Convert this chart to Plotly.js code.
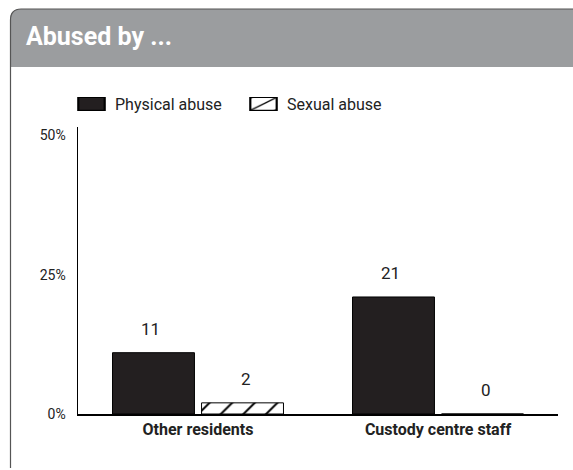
<!DOCTYPE html>
<html>
<head>
<meta charset="utf-8">
<script src="https://cdn.plot.ly/plotly-3.0.1.min.js"></script>
<style>
html,body{margin:0;padding:0;background:#fff;}
#chart{width:573px;height:470px;}
#chart .legendpoints path{transform:translate(23.5px,0px) scale(2.2,1.08);}
</style>
</head>
<body>
<div id="chart"></div>
<script>
const categories = ["Other residents", "Custody centre staff"];
const seriesNames = ["Physical abuse", "Sexual abuse"];
const physical = [11, 21];
const sexual = [2, 0];
const tickVals = [0, 25, 50];
const tickText = ["0%", "25%", "50%"];
const chartTitle = "Abused by ...";

const FONT = 'Roboto, "Liberation Sans", sans-serif';

// layout geometry (pixels)
const W = 573, H = 470;
const M = {l: 78, r: 15, t: 127, b: 56};
const pw = W - M.l - M.r, ph = H - M.t - M.b;
const px = x => (x - M.l) / pw;
const py = y => (H - M.b - y) / ph;

const traces = [
  {
    type: 'bar', name: seriesNames[0], x: categories, y: physical,
    marker: {color: '#231f20', line: {color: '#000', width: 1}},
    hoverinfo: 'skip'
  },
  {
    type: 'bar', name: seriesNames[1], x: categories, y: sexual,
    marker: {color: '#fff', line: {color: '#000', width: 1},
      pattern: {shape: '/', fgcolor: '#000', bgcolor: '#fff', size: 16, solidity: 0.12}},
    hoverinfo: 'skip'
  }
];

const annotations = [];
const slotOff = 48;
[physical, sexual].forEach((vals, si) => {
  vals.forEach((v, ci) => {
    annotations.push({
      x: categories[ci], y: v, xref: 'x', yref: 'y',
      text: String(v), showarrow: false, yanchor: 'bottom',
      xshift: si === 0 ? -slotOff : slotOff, yshift: 12,
      font: {family: FONT, size: 17, color: '#222'}
    });
  });
});
annotations.push({
  xref: 'paper', yref: 'paper', x: px(24), y: py(37), xanchor: 'left', yanchor: 'middle',
  text: '<b>' + chartTitle + '</b>', showarrow: false,
  font: {family: FONT, size: 25, color: '#fff'}
});

const shapes = [
  { // header
    type: 'path', xref: 'paper', yref: 'paper', layer: 'below',
    path: `M ${px(10)},${py(67)} L ${px(10)},${py(20)} Q ${px(10)},${py(9)} ${px(21)},${py(9)} L ${px(580)},${py(9)} L ${px(580)},${py(67)} Z`,
    fillcolor: '#9b9d9f', line: {width: 0}
  },
  { // border
    type: 'path', xref: 'paper', yref: 'paper', layer: 'above',
    path: `M ${px(10.5)},${py(468)} L ${px(10.5)},${py(20)} Q ${px(10.5)},${py(9)} ${px(21)},${py(9)} L ${px(580)},${py(9)}`,
    line: {color: '#555', width: 1.2}
  }
];

const layout = {
  width: W, height: H,
  margin: M,
  paper_bgcolor: '#fff', plot_bgcolor: '#fff',
  barmode: 'group', bargap: 0.258, bargroupgap: 0.08,
  showlegend: true,
  legend: {
    orientation: 'h', x: px(68), y: py(104), xanchor: 'left', yanchor: 'middle',
    font: {family: FONT, size: 16, color: '#222'},
    itemwidth: 37,
    entrywidth: 120, entrywidthmode: 'pixels', bgcolor: 'rgba(0,0,0,0)'
  },
  xaxis: {
    type: 'category', range: [-0.5, 1.5],
    showline: true, linecolor: '#000', linewidth: 2,
    ticks: '', showgrid: false, zeroline: false,
    tickfont: {family: FONT, size: 16, color: '#222', weight: 'bold'},
    fixedrange: true
  },
  yaxis: {
    range: [0, 51.5], tickvals: tickVals, ticktext: tickText,
    showline: true, linecolor: '#000', linewidth: 1.5,
    ticks: '', showgrid: false, zeroline: false,
    tickfont: {family: FONT, size: 14, color: '#222'},
    ticklabelstandoff: 8,
    fixedrange: true
  },
  annotations: annotations,
  shapes: shapes,
  font: {family: FONT}
};

Plotly.newPlot('chart', traces, layout, {displayModeBar: false, staticPlot: true});
</script>
</body>
</html>
